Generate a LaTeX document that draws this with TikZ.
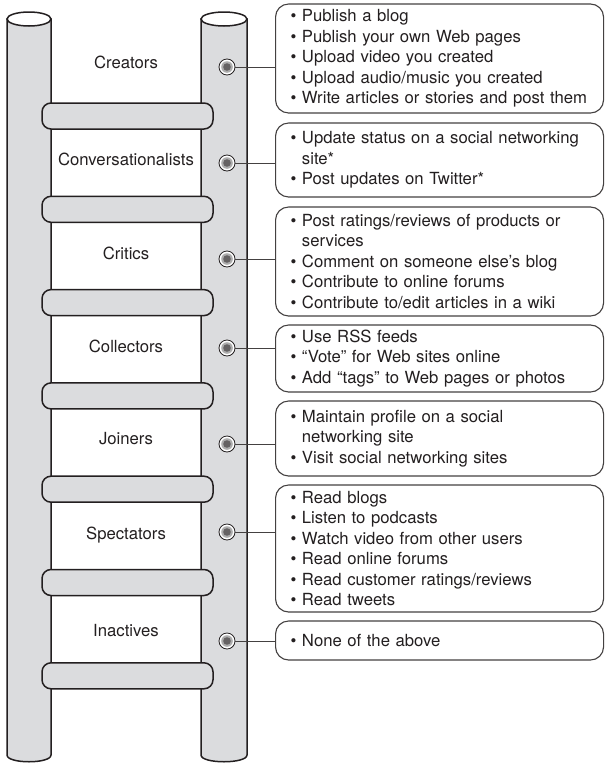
\documentclass[tikz,border=0pt]{standalone}
\usepackage{fontspec}
\setmainfont{TeX Gyre Heros}
\definecolor{railgray}{RGB}{219,220,222}
\definecolor{ink}{RGB}{35,31,32}
\tikzset{
  rail/.style={draw=ink, line width=1.5pt, fill=railgray},
  rung/.style={rail, rounded corners=9pt},
  rolename/.style={text=ink, font=\fontsize{16.7pt}{20.5pt}\selectfont, text height=12pt, text depth=0pt, inner sep=0pt},
  actbox/.style={draw=ink!85, line width=1.1pt, rounded corners=13pt, fill=white, text=ink,
    font=\fontsize{16.7pt}{20.5pt}\selectfont, text width=298pt, inner xsep=15pt, inner ysep=0pt, align=left, anchor=west},
  knob/.style={circle, draw=ink, line width=0.8pt, fill=white, minimum size=16pt, inner sep=0pt,
    path picture={\fill[gray!65] (path picture bounding box.center) circle (5.8pt);
                  \fill[ink!70] (path picture bounding box.center) circle (3.8pt);}},
  link/.style={draw=ink!85, line width=1pt}
}
\newcommand{\itm}[1]{\mbox{\textbullet\ #1}}
\newcommand{\cnt}[1]{\mbox{\phantom{\textbullet\ }#1}}
\begin{document}
\begin{tikzpicture}[x=1pt,y=-1pt]
\useasboundingbox (0,0) rectangle (605,763);
% rails
\filldraw[rail] (7,19) -- (7,755) .. controls (7,764) and (51,764) .. (51,755) -- (51,19) -- cycle;
\filldraw[rail, fill=white] (29,19) ellipse [x radius=22, y radius=7];
\filldraw[rail] (201,19) -- (201,755) .. controls (201,764) and (247,764) .. (247,755) -- (247,19) -- cycle;
\filldraw[rail, fill=white] (224,19) ellipse [x radius=23, y radius=7];
% rungs
\foreach \k in {0,...,6}
  \filldraw[rung] (42,{103+93.3*\k}) rectangle (213,{129+93.3*\k});
% roles
\node[rolename] (creators) at (126,62) {Creators};
\node[rolename] (convers) at (126,159) {Conversationalists};
\node[rolename] (critics) at (126,253) {Critics};
\node[rolename] (collect) at (126,346) {Collectors};
\node[rolename] (joiners) at (126,438) {Joiners};
\node[rolename] (spect) at (126,533) {Spectators};
\node[rolename] (inact) at (126,630) {Inactives};
% knobs on the right rail
\node[knob] (k1) at (227,67) {};
\node[knob] (k2) at (227,163) {};
\node[knob] (k3) at (227,259) {};
\node[knob] (k4) at (227,348) {};
\node[knob] (k5) at (227,444) {};
\node[knob] (k6) at (227,532) {};
\node[knob] (k7) at (227,641) {};
% activity boxes
\node[actbox, minimum height=109pt] (b1) at (275,58.5) {\itm{Publish a blog}\\ \itm{Publish your own Web pages}\\ \itm{Upload video you created}\\ \itm{Upload audio/music you created}\\ \itm{Write articles or stories and post them}};
\node[actbox, minimum height=74pt] (b2) at (275,160) {\itm{Update status on a social networking}\\ \cnt{site*}\\ \itm{Post updates on Twitter*}};
\node[actbox, minimum height=109pt] (b3) at (275,261.5) {\itm{Post ratings/reviews of products or}\\ \cnt{services}\\ \itm{Comment on someone else’s blog}\\ \itm{Contribute to online forums}\\ \itm{Contribute to/edit articles in a wiki}};
\node[actbox, minimum height=67pt] (b4) at (275,358.5) {\itm{Use RSS feeds}\\ \itm{“Vote” for Web sites online}\\ \itm{Add “tags” to Web pages or photos}};
\node[actbox, minimum height=75pt] (b5) at (275,438.5) {\itm{Maintain profile on a social}\\ \cnt{networking site}\\ \itm{Visit social networking sites}};
\node[actbox, minimum height=127pt] (b6) at (275,548.5) {\itm{Read blogs}\\ \itm{Listen to podcasts}\\ \itm{Watch video from other users}\\ \itm{Read online forums}\\ \itm{Read customer ratings/reviews}\\ \itm{Read tweets}};
\node[actbox, minimum height=39pt] (b7) at (275,640.5) {\itm{None of the above}};
% links
\foreach \i in {1,...,7}
  \draw[link] (k\i.east) -- (k\i.east -| b\i.west);
\end{tikzpicture}
\end{document}
